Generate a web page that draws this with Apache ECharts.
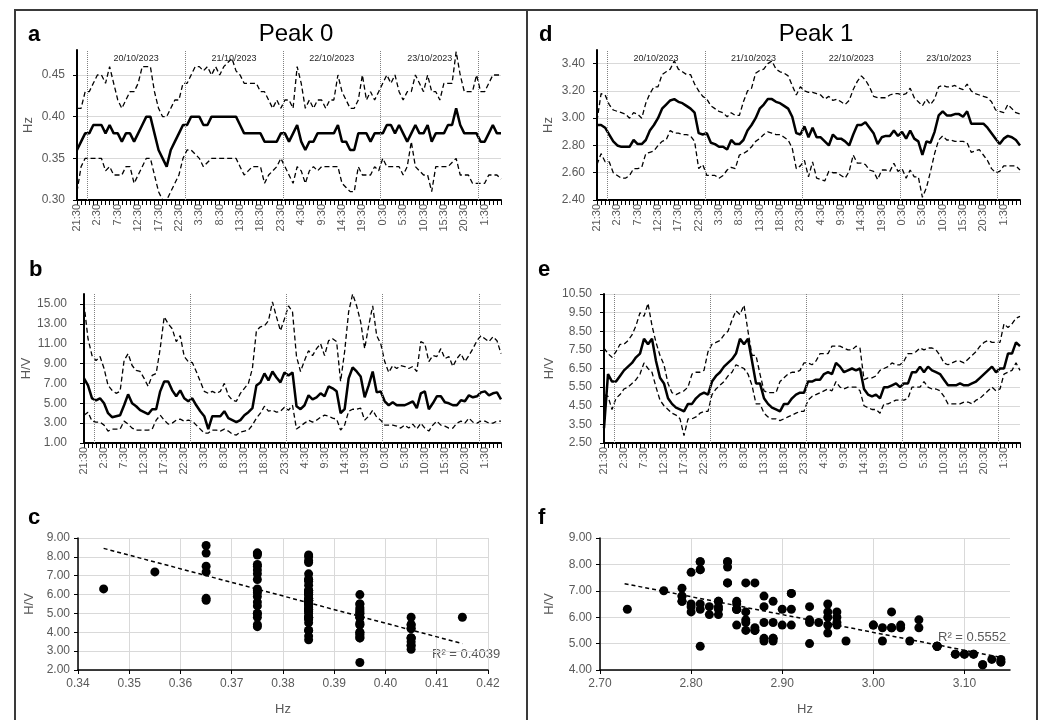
<!DOCTYPE html>
<html>
<head>
<meta charset="utf-8">
<script src="https://cdn.jsdelivr.net/npm/echarts@6/dist/echarts.min.js"></script>
<style>
  html, body { margin: 0; padding: 0; background: #fff; }
  #chart { width: 1043px; height: 720px; }
</style>
</head>
<body>
<div id="chart"></div>
<script>
// hourly samples, 21:30 19/10/2023 -> 5:30 24/10/2023
const tickLabels = ['21:30', '2:30', '7:30', '12:30', '17:30', '22:30', '3:30', '8:30', '13:30', '18:30', '23:30',
  '4:30', '9:30', '14:30', '19:30', '0:30', '5:30', '10:30', '15:30', '20:30', '1:30']
const dayBreaks = [2.5, 26.5, 50.5, 74.5, 98.5]
const dayNoons = [14.5, 38.5, 62.5, 86.5]
const dayLabels = ['20/10/2023', '21/10/2023', '22/10/2023', '23/10/2023']

// Peak 0 - frequency (Hz): median, lower, upper
const hz0Med = [
  0.36, 0.37, 0.38, 0.38, 0.39, 0.39, 0.39, 0.38, 0.39, 0.38, 0.38, 0.37, 0.38, 0.38, 0.37,
  0.38, 0.39, 0.40, 0.40, 0.38, 0.36, 0.35, 0.34, 0.36, 0.37, 0.38, 0.39, 0.39, 0.40, 0.40,
  0.40, 0.39, 0.39, 0.40, 0.40, 0.40, 0.40, 0.40, 0.40, 0.40, 0.39, 0.38, 0.38, 0.38, 0.38,
  0.38, 0.37, 0.37, 0.37, 0.37, 0.38, 0.38, 0.37, 0.38, 0.39, 0.37, 0.36, 0.37, 0.37, 0.38,
  0.38, 0.38, 0.38, 0.38, 0.39, 0.37, 0.37, 0.36, 0.36, 0.38, 0.38, 0.38, 0.37, 0.38, 0.38,
  0.38, 0.39, 0.39, 0.38, 0.39, 0.38, 0.37, 0.38, 0.39, 0.38, 0.38, 0.39, 0.37, 0.38, 0.38,
  0.38, 0.39, 0.39, 0.41, 0.39, 0.38, 0.38, 0.38, 0.38, 0.37, 0.37, 0.38, 0.39, 0.38, 0.38,
]
const hz0Hi = [
  0.41, 0.41, 0.43, 0.43, 0.44, 0.45, 0.45, 0.44, 0.46, 0.44, 0.42, 0.41, 0.42, 0.43, 0.43,
  0.44, 0.46, 0.46, 0.46, 0.43, 0.41, 0.40, 0.40, 0.41, 0.42, 0.42, 0.44, 0.44, 0.45, 0.46,
  0.46, 0.455, 0.46, 0.45, 0.46, 0.45, 0.46, 0.465, 0.47, 0.455, 0.45, 0.44, 0.44, 0.44, 0.44,
  0.43, 0.43, 0.42, 0.41, 0.42, 0.41, 0.42, 0.42, 0.41, 0.46, 0.44, 0.41, 0.42, 0.41, 0.42,
  0.42, 0.41, 0.42, 0.42, 0.45, 0.43, 0.42, 0.41, 0.41, 0.42, 0.45, 0.42, 0.43, 0.42, 0.43,
  0.44, 0.45, 0.44, 0.45, 0.43, 0.42, 0.43, 0.43, 0.45, 0.44, 0.43, 0.45, 0.43, 0.43, 0.42,
  0.44, 0.44, 0.44, 0.478, 0.45, 0.43, 0.43, 0.43, 0.45, 0.43, 0.43, 0.44, 0.45, 0.45, 0.45,
]
const hz0Lo = [
  0.31, 0.34, 0.35, 0.35, 0.35, 0.35, 0.35, 0.335, 0.34, 0.33, 0.33, 0.33, 0.34, 0.34, 0.32,
  0.33, 0.34, 0.35, 0.35, 0.33, 0.31, 0.30, 0.30, 0.31, 0.32, 0.33, 0.35, 0.36, 0.36, 0.355,
  0.35, 0.34, 0.345, 0.35, 0.35, 0.35, 0.35, 0.35, 0.35, 0.35, 0.34, 0.33, 0.335, 0.34, 0.34,
  0.34, 0.32, 0.33, 0.335, 0.34, 0.35, 0.34, 0.33, 0.32, 0.34, 0.335, 0.32, 0.335, 0.34, 0.335,
  0.34, 0.34, 0.34, 0.34, 0.34, 0.32, 0.315, 0.31, 0.31, 0.34, 0.33, 0.33, 0.33, 0.34, 0.335,
  0.35, 0.34, 0.34, 0.34, 0.34, 0.33, 0.34, 0.37, 0.34, 0.335, 0.33, 0.33, 0.31, 0.34, 0.34,
  0.34, 0.34, 0.345, 0.35, 0.33, 0.33, 0.33, 0.32, 0.32, 0.32, 0.32, 0.33, 0.33, 0.33, 0.325,
]

// Peak 0 - H/V amplitude
const hv0Med = [
  7.5, 6.8, 5.5, 5.3, 5.5, 5.0, 4.0, 3.6, 3.7, 3.8, 4.8, 5.9, 5.0, 4.7, 4.3,
  4.1, 3.9, 4.4, 4.4, 6.2, 7.2, 7.2, 6.3, 5.7, 6.3, 5.5, 5.2, 5.5, 4.8, 4.2,
  3.7, 2.4, 3.7, 3.7, 3.7, 4.2, 3.5, 3.3, 3.1, 3.3, 3.8, 4.1, 4.5, 6.8, 7.1,
  8.0, 7.3, 8.2, 7.6, 7.1, 8.1, 7.8, 8.1, 4.7, 4.4, 4.8, 5.8, 5.4, 5.6, 6.0,
  5.7, 6.7, 6.5, 6.2, 4.0, 4.4, 7.5, 8.6, 8.2, 7.7, 5.6, 6.8, 8.2, 6.1, 6.2,
  5.2, 4.8, 5.1, 4.8, 4.8, 4.8, 5.0, 5.2, 4.5, 6.0, 6.2, 4.4, 5.0, 5.7, 5.7,
  5.1, 5.0, 4.8, 4.8, 5.3, 5.2, 5.8, 5.6, 5.7, 6.1, 6.2, 5.8, 6.0, 6.1, 5.4,
]
const hv0Hi = [
  15.0, 11.5, 9.8, 9.3, 9.7, 8.5, 6.8, 6.3, 6.0, 6.2, 9.3, 10.0, 8.8, 8.3, 8.2,
  7.5, 6.7, 7.8, 8.0, 10.5, 13.7, 13.0, 12.5, 11.2, 11.8, 9.7, 9.2, 9.1, 8.2, 7.2,
  6.2, 6.0, 6.2, 6.0, 6.2, 7.0, 5.8, 5.3, 5.2, 6.0, 6.5, 7.0, 8.5, 12.3, 12.7,
  12.8, 13.3, 15.2, 13.7, 12.3, 13.5, 14.8, 14.2, 9.7, 8.2, 9.3, 10.3, 9.8, 10.5, 11.0,
  9.8, 11.3, 11.5, 11.2, 7.2, 10.2, 14.2, 16.0, 14.8, 13.2, 10.5, 12.8, 14.8, 11.8, 11.0,
  9.2, 8.1, 8.8, 8.5, 8.8, 8.7, 8.5, 8.7, 8.2, 11.2, 11.0, 9.2, 9.8, 9.7, 10.5,
  9.5, 9.7, 8.7, 9.5, 10.0, 9.2, 9.8, 10.5, 11.3, 11.8, 11.5, 11.2, 11.7, 11.3, 10.0,
]
const hv0Lo = [
  3.8, 4.1, 3.2, 3.1, 3.1, 2.8, 2.2, 2.4, 2.4, 2.4, 3.2, 2.9, 2.5, 2.3, 2.3,
  2.3, 2.3, 2.4, 3.3, 3.8, 3.3, 2.9, 3.0, 3.3, 3.4, 3.2, 3.3, 3.2, 2.8, 2.4,
  2.0, 2.0, 2.3, 2.3, 2.2, 2.4, 2.2, 1.9, 1.8, 2.1, 2.2, 2.3, 2.8, 3.5, 4.0,
  4.7, 4.2, 4.3, 4.1, 4.2, 4.6, 4.3, 4.8, 2.4, 2.7, 3.0, 3.3, 3.1, 3.3, 3.6,
  3.8, 3.7, 3.5, 3.4, 2.3, 2.8, 4.2, 4.4, 4.4, 4.5, 3.3, 3.7, 4.3, 3.6, 3.3,
  2.8, 2.8, 2.8, 2.7, 2.5, 2.8, 2.5, 2.9, 2.4, 3.0, 2.5, 2.2, 2.8, 3.2, 2.8,
  2.7, 2.5, 2.5, 3.0, 3.2, 3.0, 3.5, 3.1, 3.0, 3.2, 3.2, 3.0, 3.0, 3.2, 3.2,
]

// Peak 1 - frequency (Hz)
const hz1Med = [
  2.95, 2.95, 2.93, 2.88, 2.83, 2.80, 2.79, 2.79, 2.79, 2.84, 2.81, 2.81, 2.84, 2.91, 2.95,
  3.00, 3.07, 3.10, 3.13, 3.14, 3.12, 3.11, 3.09, 3.07, 3.04, 2.89, 2.88, 2.89, 2.82, 2.81,
  2.79, 2.79, 2.77, 2.84, 2.81, 2.81, 2.84, 2.91, 2.95, 3.00, 3.07, 3.10, 3.14, 3.14, 3.12,
  3.11, 3.09, 3.07, 3.01, 2.89, 2.88, 2.94, 2.86, 2.93, 2.86, 2.86, 2.83, 2.80, 2.88, 2.85,
  2.85, 2.83, 2.80, 2.88, 2.95, 2.95, 2.97, 2.93, 2.89, 2.81, 2.86, 2.87, 2.87, 2.91, 2.87,
  2.90, 2.85, 2.91, 2.85, 2.83, 2.73, 2.83, 2.82, 2.90, 3.02, 3.05, 3.02, 3.02, 3.03, 3.03,
  3.01, 3.05, 2.96, 2.96, 2.96, 2.96, 2.93, 2.89, 2.85, 2.81, 2.85, 2.87, 2.86, 2.84, 2.80,
]
const hz1Hi = [
  2.98, 3.18, 3.17, 3.10, 3.06, 3.05, 3.04, 3.03, 3.00, 3.04, 3.03, 3.00, 3.11, 3.18, 3.23,
  3.23, 3.32, 3.34, 3.36, 3.42, 3.36, 3.34, 3.32, 3.32, 3.25, 3.20, 3.16, 3.14, 3.09, 3.07,
  3.05, 3.04, 3.01, 3.04, 3.02, 3.02, 3.12, 3.20, 3.22, 3.33, 3.35, 3.36, 3.40, 3.42, 3.36,
  3.34, 3.33, 3.31, 3.24, 3.17, 3.23, 3.20, 3.19, 3.19, 3.18, 3.17, 3.14, 3.16, 3.13, 3.14,
  3.12, 3.10, 3.13, 3.21, 3.27, 3.31, 3.28, 3.23, 3.16, 3.15, 3.15, 3.15, 3.17, 3.18, 3.18,
  3.17, 3.18, 3.22, 3.15, 3.12, 3.09, 3.14, 3.10, 3.14, 3.23, 3.24, 3.23, 3.23, 3.24, 3.22,
  3.21, 3.25, 3.20, 3.18, 3.17, 3.16, 3.15, 3.12, 3.06, 3.05, 3.04, 3.10, 3.07, 3.04, 3.03,
]
const hz1Lo = [
  2.66, 2.74, 2.68, 2.68, 2.60, 2.58, 2.56, 2.56, 2.58, 2.63, 2.63, 2.64, 2.74, 2.75, 2.76,
  2.80, 2.83, 2.84, 2.91, 2.89, 2.89, 2.88, 2.88, 2.87, 2.83, 2.63, 2.66, 2.58, 2.58, 2.58,
  2.56, 2.58, 2.62, 2.64, 2.63, 2.73, 2.74, 2.76, 2.79, 2.83, 2.85, 2.88, 2.90, 2.89, 2.88,
  2.88, 2.86, 2.84, 2.78, 2.63, 2.65, 2.69, 2.57, 2.68, 2.56, 2.55, 2.54, 2.61, 2.60, 2.60,
  2.58, 2.56, 2.61, 2.73, 2.67, 2.67, 2.66, 2.62, 2.61, 2.55, 2.62, 2.62, 2.61, 2.67, 2.61,
  2.63, 2.56, 2.62, 2.57, 2.57, 2.42, 2.49, 2.61, 2.74, 2.84, 2.87, 2.84, 2.84, 2.83, 2.83,
  2.83, 2.82, 2.75, 2.76, 2.77, 2.73, 2.69, 2.63, 2.60, 2.61, 2.65, 2.65, 2.65, 2.65, 2.62,
]

// Peak 1 - H/V amplitude
const hv1Med = [
  3.3, 6.2, 5.8, 5.8, 6.1, 6.4, 6.6, 6.8, 7.1, 7.3, 8.1, 7.8, 8.1, 6.9, 6.0,
  5.7, 4.9, 4.6, 4.4, 4.3, 4.2, 4.6, 4.6, 4.9, 5.1, 5.2, 5.1, 5.8, 6.1, 6.3,
  6.6, 6.8, 7.0, 7.3, 8.1, 7.8, 8.1, 6.9, 5.7, 5.7, 4.9, 4.6, 4.4, 4.3, 4.2,
  4.6, 4.6, 4.9, 5.1, 5.2, 5.2, 5.8, 5.8, 5.9, 5.9, 6.2, 6.3, 6.2, 6.8, 6.6,
  6.3, 6.4, 6.5, 6.4, 6.5, 5.4, 5.1, 5.0, 5.1, 4.9, 5.5, 5.5, 5.6, 5.7, 5.5,
  5.7, 5.7, 6.3, 6.3, 6.6, 6.3, 6.6, 6.4, 6.3, 6.2, 5.9, 5.6, 5.6, 5.6, 5.7,
  5.6, 5.6, 5.7, 5.8, 6.0, 6.2, 6.4, 6.6, 6.3, 6.5, 6.5, 7.3, 7.3, 7.9, 7.7,
]
const hv1Hi = [
  7.6, 7.3, 7.1, 7.4, 7.8, 7.8, 8.0, 8.3, 8.8, 9.5, 9.3, 10.0, 8.8, 7.9, 7.2,
  6.7, 5.7, 5.2, 5.1, 5.2, 5.3, 5.5, 6.2, 6.3, 6.3, 6.4, 7.4, 7.8, 7.9, 8.0,
  8.3, 8.5, 9.1, 9.6, 9.4, 9.9, 8.5, 7.2, 7.2, 6.2, 5.3, 5.2, 5.2, 5.2, 5.8,
  6.0, 6.2, 6.3, 6.3, 6.4, 6.8, 6.8, 6.7, 6.9, 7.3, 7.3, 7.3, 7.7, 7.7, 7.7,
  7.6, 7.5, 7.5, 7.7, 7.6, 5.9, 6.0, 6.0, 6.1, 6.4, 6.5, 6.6, 6.8, 6.7, 6.7,
  6.9, 7.3, 7.3, 7.4, 7.6, 7.5, 7.6, 7.6, 7.5, 7.2, 6.8, 6.7, 6.8, 6.9, 6.9,
  6.8, 7.0, 7.2, 7.4, 7.7, 7.9, 8.0, 7.9, 7.9, 7.9, 8.9, 8.7, 8.9, 9.2, 9.3,
]
const hv1Lo = [
  5.1, 5.0, 4.3, 4.9, 5.1, 5.4, 5.5, 5.7, 5.9, 6.2, 6.8, 6.5, 6.3, 5.5, 4.8,
  4.5, 4.3, 4.1, 4.0, 3.8, 2.9, 3.8, 3.8, 3.9, 4.1, 4.2, 4.2, 5.1, 5.4, 5.6,
  5.8, 6.1, 6.3, 6.7, 6.6, 6.5, 6.2, 5.6, 4.6, 4.6, 4.1, 3.9, 3.8, 3.8, 3.7,
  3.8, 3.9, 4.0, 4.1, 4.2, 4.2, 4.8, 5.0, 5.1, 5.2, 5.3, 5.4, 5.3, 5.8, 5.5,
  5.4, 5.5, 5.5, 5.5, 5.3, 4.5, 4.4, 4.3, 4.3, 4.1, 4.6, 4.6, 4.7, 4.8, 4.8,
  4.8, 4.9, 5.5, 5.5, 5.5, 5.8, 5.5, 5.4, 5.4, 5.3, 5.0, 4.6, 4.6, 4.6, 4.6,
  4.7, 4.7, 4.6, 4.8, 4.9, 5.1, 5.3, 5.5, 5.3, 5.4, 6.2, 6.3, 6.4, 6.8, 6.4,
]

// Peak 0 scatter is plotted at bin centres (half a step above the median)
const binOffset0 = 0.005
// linear trend end points
const trend0 = [[0.345, 8.45], [0.415, 3.4]]
const trend1 = [[2.727, 7.27], [3.144, 4.45]]
const r2Labels = ['R² = 0.4039', 'R² = 0.5552']

const GREY = '#595959'
const GRIDC = '#d9d9d9'
const FONT = "'Liberation Sans', Arial, sans-serif"
const N = hz0Med.length

const chart = echarts.init(document.getElementById('chart'))

function grid(left, top, width, height) {
  return { left, top, width, height, containLabel: false, outerBoundsMode: 'none' }
}

function timeAxis(gridIndex) {
  return {
    gridIndex,
    type: 'value',
    min: 0,
    max: N - 1,
    interval: 1,
    axisLine: { show: true, onZero: false, lineStyle: { color: '#000', width: 2 } },
    axisTick: { show: true, length: 5, lineStyle: { color: '#000', width: 1 } },
    axisLabel: {
      rotate: 90,
      margin: 4,
      fontSize: 11,
      color: GREY,
      fontFamily: FONT,
      formatter: v => (v % 5 === 0 ? tickLabels[v / 5] || '' : ''),
    },
    splitLine: { show: false },
  }
}

function valAxis(o) {
  return {
    gridIndex: o.grid,
    type: 'value',
    min: o.min,
    max: o.max,
    interval: o.interval,
    name: o.name,
    nameLocation: 'middle',
    nameGap: o.nameGap,
    nameTextStyle: { color: GREY, fontSize: 13, fontFamily: FONT },
    axisLine: { show: true, onZero: false, lineStyle: { color: '#000', width: o.lw || 1.5 } },
    axisTick: { show: true, length: 4, lineStyle: { color: '#000', width: 1 } },
    axisLabel: {
      color: GREY,
      fontSize: 12,
      fontFamily: FONT,
      margin: o.margin || 8,
      showMaxLabel: !o.hideMax,
      formatter: v => v.toFixed(2),
    },
    splitLine: { show: true, showMaxLine: !o.hideMax, lineStyle: { color: GRIDC, width: 1 } },
  }
}

function bandSeries(k, med, lo, hi, yMax, withDates) {
  const pts = arr => arr.map((v, i) => [i, v])
  const dashed = arr => ({
    type: 'line',
    xAxisIndex: k,
    yAxisIndex: k,
    data: pts(arr),
    symbol: 'none',
    silent: true,
    lineStyle: { color: '#000', width: 1.3, type: [5, 3] },
    z: 3,
  })
  const main = {
    type: 'line',
    xAxisIndex: k,
    yAxisIndex: k,
    data: pts(med),
    symbol: 'none',
    silent: true,
    lineStyle: { color: '#000', width: 2.5 },
    z: 4,
    markLine: {
      silent: true,
      symbol: ['none', 'none'],
      label: { show: false },
      lineStyle: { type: 'dotted', color: '#808080', width: 1 },
      data: dayBreaks.map(x => ({ xAxis: x })),
    },
  }
  if (withDates) {
    main.markPoint = {
      symbol: 'rect',
      symbolSize: 1,
      itemStyle: { color: 'transparent' },
      label: { show: true, position: 'inside', offset: [0, 9], formatter: '{b}', color: '#262626', fontSize: 9, fontFamily: FONT },
      data: dayNoons.map((x, j) => ({ name: dayLabels[j], coord: [x, yMax] })),
    }
  }
  return [dashed(hi), dashed(lo), main]
}

function scatterSeries(k, hz, hv, offset, trend) {
  return [
    {
      type: 'scatter',
      xAxisIndex: k,
      yAxisIndex: k,
      symbolSize: 9,
      itemStyle: { color: '#000', opacity: 1 },
      data: hz.map((h, i) => [+(h + offset).toFixed(3), hv[i]]),
      z: 3,
    },
    {
      type: 'line',
      xAxisIndex: k,
      yAxisIndex: k,
      data: trend,
      symbol: 'none',
      lineStyle: { color: '#000', width: 1.5, type: [4, 3] },
      z: 4,
    },
  ]
}

function txt(text, x, y, size, opts = {}) {
  return {
    type: 'text',
    x,
    y,
    silent: true,
    style: {
      text,
      fill: opts.color || '#000',
      font: `${opts.bold ? 'bold ' : ''}${size}px ${FONT}`,
      textAlign: opts.align || 'left',
      align: opts.align || 'left',
      textVerticalAlign: 'middle',
      verticalAlign: 'middle',
    },
  }
}

chart.setOption({
  animation: false,
  backgroundColor: '#fff',
  grid: [
    grid(77, 50, 424, 150),   // a
    grid(84, 294, 417, 149),  // b
    grid(78, 538, 410, 132),  // c
    grid(597, 50, 423, 150),  // d
    grid(604, 294, 416, 149), // e
    grid(600, 538, 410, 132), // f
  ],
  xAxis: [
    timeAxis(0),
    timeAxis(1),
    valAxis({ grid: 2, min: 0.34, max: 0.42, interval: 0.01, name: 'Hz', nameGap: 33 }),
    timeAxis(3),
    timeAxis(4),
    valAxis({ grid: 5, min: 2.7, max: 3.15, interval: 0.1, name: 'Hz', nameGap: 33, hideMax: true }),
  ],
  yAxis: [
    valAxis({ grid: 0, min: 0.3, max: 0.48, interval: 0.05, name: 'Hz', nameGap: 42, lw: 2, margin: 12, hideMax: true }),
    valAxis({ grid: 1, min: 1, max: 16, interval: 2, name: 'H/V', nameGap: 48, lw: 2, margin: 17, hideMax: true }),
    valAxis({ grid: 2, min: 2, max: 9, interval: 1, name: 'H/V', nameGap: 42 }),
    valAxis({ grid: 3, min: 2.4, max: 3.5, interval: 0.2, name: 'Hz', nameGap: 42, lw: 2, margin: 12, hideMax: true }),
    valAxis({ grid: 4, min: 2.5, max: 10.5, interval: 1, name: 'H/V', nameGap: 48, lw: 2, margin: 12 }),
    valAxis({ grid: 5, min: 4, max: 9, interval: 1, name: 'H/V', nameGap: 44 }),
  ],
  series: [
    ...bandSeries(0, hz0Med, hz0Lo, hz0Hi, 0.48, true),
    ...bandSeries(1, hv0Med, hv0Lo, hv0Hi, 16, false),
    ...scatterSeries(2, hz0Med, hv0Med, binOffset0, trend0),
    ...bandSeries(3, hz1Med, hz1Lo, hz1Hi, 3.5, true),
    ...bandSeries(4, hv1Med, hv1Lo, hv1Hi, 10.5, false),
    ...scatterSeries(5, hz1Med, hv1Med, 0, trend1),
  ],
  graphic: [
    {
      type: 'rect',
      silent: true,
      shape: { x: 15, y: 10, width: 1022, height: 720 },
      style: { fill: 'none', stroke: '#3a3a3a', lineWidth: 2 },
    },
    {
      type: 'line',
      silent: true,
      shape: { x1: 527, y1: 10, x2: 527, y2: 720 },
      style: { stroke: '#3a3a3a', lineWidth: 2 },
    },
    txt('Peak 0', 296, 34, 24, { align: 'center' }),
    txt('Peak 1', 816, 34, 24, { align: 'center' }),
    txt('a', 28, 35, 22, { bold: true }),
    txt('b', 29, 270, 22, { bold: true }),
    txt('c', 28, 518, 22, { bold: true }),
    txt('d', 539, 35, 22, { bold: true }),
    txt('e', 538, 270, 22, { bold: true }),
    txt('f', 538, 518, 22, { bold: true }),
    txt(r2Labels[0], 432, 654, 13, { color: GREY }),
    txt(r2Labels[1], 938, 637, 13, { color: GREY }),
  ],
})
</script>
</body>
</html>
